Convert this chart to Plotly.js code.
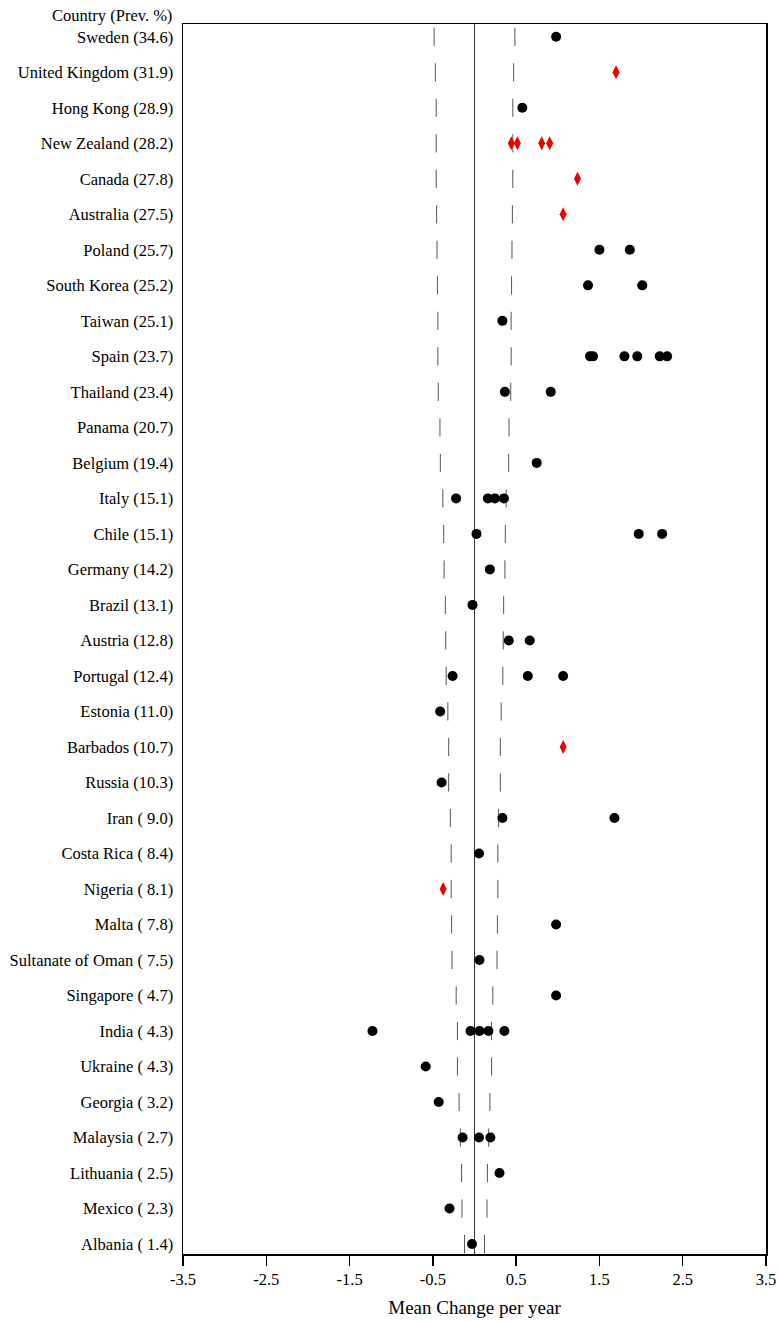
<!DOCTYPE html>
<html>
<head>
<meta charset="utf-8">
<script src="https://cdn.plot.ly/plotly-3.0.1.min.js"></script>
<style>html,body{margin:0;padding:0;background:#fff;}#chart{width:778px;height:1322px;}</style>
</head>
<body>
<div id="chart"></div>
<script>
const countries = ["Sweden","United Kingdom","Hong Kong","New Zealand","Canada","Australia","Poland","South Korea","Taiwan","Spain","Thailand","Panama","Belgium","Italy","Chile","Germany","Brazil","Austria","Portugal","Estonia","Barbados","Russia","Iran","Costa Rica","Nigeria","Malta","Sultanate of Oman","Singapore","India","Ukraine","Georgia","Malaysia","Lithuania","Mexico","Albania"];
const prevalence = [34.6,31.9,28.9,28.2,27.8,27.5,25.7,25.2,25.1,23.7,23.4,20.7,19.4,15.1,15.1,14.2,13.1,12.8,12.4,11.0,10.7,10.3,9.0,8.4,8.1,7.8,7.5,4.7,4.3,4.3,3.2,2.7,2.5,2.3,1.4];
const limitHalfWidth = [0.485,0.47,0.46,0.46,0.46,0.455,0.45,0.445,0.44,0.44,0.435,0.415,0.41,0.38,0.37,0.365,0.35,0.345,0.34,0.32,0.31,0.31,0.29,0.28,0.28,0.275,0.27,0.22,0.205,0.205,0.185,0.17,0.155,0.15,0.12];
const circleValues = [
  [0.98], [], [0.574], [], [], [],
  [1.50, 1.865], [1.363, 2.014], [0.335],
  [1.387, 1.423, 1.80, 1.955, 2.224, 2.313],
  [0.365, 0.915], [], [0.747],
  [-0.221, 0.161, 0.245, 0.353],
  [0.024, 1.972, 2.253], [0.185], [-0.024],
  [0.412, 0.663], [-0.263, 0.64, 1.064], [-0.412], [],
  [-0.395], [0.335, 1.68], [0.054], [], [0.98], [0.06], [0.98],
  [-1.225, -0.048, 0.06, 0.167, 0.359], [-0.586], [-0.43],
  [-0.143, 0.054, 0.191], [0.30], [-0.30], [-0.03]
];
const diamondValues = [
  [], [1.70], [], [0.442, 0.514, 0.807, 0.903], [1.237], [1.064],
  [], [], [], [], [], [], [], [], [], [], [], [], [], [], [1.064],
  [], [], [], [-0.377], [], [], [], [], [], [], [], [], [], []
];
const xTickValues = [-3.5, -2.5, -1.5, -0.5, 0.5, 1.5, 2.5, 3.5];
const xTickLabels = ["-3.5", "-2.5", "-1.5", "-0.5", "0.5", "1.5", "2.5", "3.5"];

const rowIndex = countries.map((c, i) => i);
const yLabels = countries.map((c, i) => c + " (" + (prevalence[i] < 10 ? " " : "") + prevalence[i].toFixed(1) + ")");

const limX = [], limY = [];
limitHalfWidth.forEach((h, i) => { limX.push(-h, h); limY.push(i, i); });
const cX = [], cY = [];
circleValues.forEach((arr, i) => arr.forEach(v => { cX.push(v); cY.push(i); }));
const dX = [], dY = [];
diamondValues.forEach((arr, i) => arr.forEach(v => { dX.push(v); dY.push(i); }));

const font = '"Liberation Serif", "Times New Roman", serif';

const traces = [
  {x: limX, y: limY, type: 'scatter', mode: 'markers', hoverinfo: 'skip',
   marker: {symbol: 'line-ns', size: 13, color: '#555', line: {color: '#555', width: 1}}},
  {x: cX, y: cY, type: 'scatter', mode: 'markers',
   marker: {symbol: 'circle', size: 10, color: '#000'}},
  {x: dX, y: dY, type: 'scatter', mode: 'markers',
   marker: {symbol: 'diamond-tall', size: 10, color: '#ee0000'}}
];

const layout = {
  width: 778, height: 1322,
  margin: {l: 183, r: 12, t: 24, b: 68},
  paper_bgcolor: '#fff', plot_bgcolor: '#fff',
  showlegend: false,
  font: {family: font, size: 16.5, color: '#000'},
  xaxis: {
    range: [-3.5, 3.5], tickvals: xTickValues, ticktext: xTickLabels,
    ticks: 'outside', ticklen: 10, tickwidth: 1.5, tickcolor: '#000',
    ticklabeloverflow: 'allow',
    showgrid: false, zeroline: true, zerolinecolor: '#333', zerolinewidth: 1.2,
    showline: true, mirror: true, linecolor: '#000', linewidth: 1.5,
    tickfont: {family: font, size: 16.5, color: '#000'},
    title: {text: 'Mean Change per year', font: {family: font, size: 19, color: '#000'}, standoff: 12}
  },
  yaxis: {
    range: [34.28, -0.36], tickvals: rowIndex, ticktext: yLabels,
    ticks: '', showgrid: false, zeroline: false,
    showline: true, mirror: true, linecolor: '#000', linewidth: 1.5,
    ticklabelstandoff: 5,
    tickfont: {family: font, size: 16.5, color: '#000'}
  },
  annotations: [{
    text: 'Country (Prev. %)', xref: 'paper', yref: 'paper', x: 0, y: 1,
    xanchor: 'right', yanchor: 'middle', xshift: -9, yshift: 9, showarrow: false,
    font: {family: font, size: 16.5, color: '#000'}
  }]
};

Plotly.newPlot('chart', traces, layout, {displayModeBar: false, staticPlot: true});
</script>
</body>
</html>
